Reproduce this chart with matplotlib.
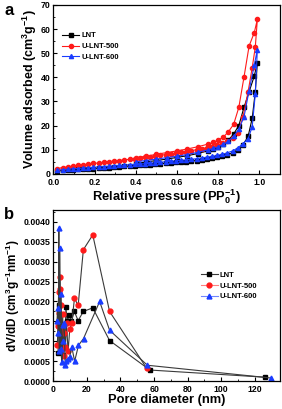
import matplotlib
matplotlib.use("Agg")
import matplotlib.pyplot as plt
from matplotlib.ticker import MultipleLocator, FormatStrFormatter
from matplotlib.lines import Line2D

plt.rcParams["font.family"] = ["Liberation Sans", "DejaVu Sans"]
plt.rcParams["font.weight"] = "bold"
plt.rcParams["mathtext.fontset"] = "custom"
plt.rcParams["mathtext.rm"] = "Liberation Sans:bold"
plt.rcParams["mathtext.bf"] = "Liberation Sans:bold"
plt.rcParams["mathtext.default"] = "bf"

labels = ["LNT", "U-LNT-500", "U-LNT-600"]
colors = ["#000000", "#ff1a1a", "#1a3cff"]
markers = ["s", "o", "^"]

# (a) N2 isotherms: adsorption branch then desorption branch
p_ads = [0.02, 0.045, 0.07, 0.095, 0.12, 0.145, 0.17, 0.195, 0.22, 0.245,
         0.27, 0.295, 0.32, 0.345, 0.37, 0.395, 0.42, 0.445, 0.47, 0.495,
         0.52, 0.545, 0.57, 0.595, 0.62, 0.645, 0.67, 0.695, 0.72, 0.745,
         0.77, 0.795, 0.82, 0.845, 0.87, 0.895, 0.92, 0.945, 0.965, 0.98, 0.99]
p_des = [0.975, 0.95, 0.925, 0.9, 0.875, 0.85, 0.825, 0.8, 0.775, 0.75,
         0.7, 0.65, 0.6, 0.55, 0.5, 0.45, 0.4]

lnt_ads = [1.2, 1.4, 1.5, 1.7, 1.8, 1.9, 2.1, 2.2, 2.4, 2.5,
           2.6, 2.8, 2.9, 3.1, 3.2, 3.4, 3.5, 3.7, 3.8, 4.0,
           4.2, 4.4, 4.5, 4.7, 4.9, 5.1, 5.3, 5.5, 5.8, 6.1,
           6.4, 6.8, 7.3, 7.9, 8.7, 10.0, 12.0, 15.5, 23.0, 34.0, 46.0]
lnt_des = [40.5, 34.0, 27.5, 20.0, 16.5, 14.0, 12.5, 11.0, 10.2, 9.5,
           8.4, 7.5, 6.8, 6.1, 5.5, 4.9, 4.3]

u500_ads = [2.2, 2.6, 2.9, 3.2, 3.5, 3.8, 4.0, 4.3, 4.5, 4.8,
            5.0, 5.3, 5.5, 5.8, 6.0, 6.3, 6.6, 6.8, 7.1, 7.4,
            7.7, 8.0, 8.3, 8.6, 8.9, 9.2, 9.6, 10.0, 10.4, 10.8,
            11.3, 11.9, 12.6, 13.5, 14.8, 17.0, 23.5, 34.0, 44.0, 52.5, 64.0]
u500_des = [58.5, 53.0, 40.0, 27.5, 20.5, 17.5, 15.2, 14.0, 13.0, 12.3,
            11.2, 10.3, 9.5, 8.8, 8.1, 7.3, 6.7]

u600_ads = [1.5, 1.7, 1.9, 2.1, 2.2, 2.4, 2.6, 2.7, 2.9, 3.0,
            3.2, 3.3, 3.5, 3.6, 3.8, 3.9, 4.1, 4.2, 4.4, 4.6,
            4.8, 5.0, 5.2, 5.4, 5.6, 5.8, 6.0, 6.3, 6.6, 6.9,
            7.2, 7.6, 8.1, 8.7, 9.5, 10.7, 12.5, 14.5, 19.5, 33.0, 51.5]
u600_des = [45.0, 34.5, 23.5, 18.5, 15.5, 13.5, 12.2, 11.2, 10.5, 9.9,
            8.9, 8.0, 7.3, 6.7, 6.1, 5.5, 5.0]

# (b) pore size distributions
lnt_d = [2.8, 3.2, 3.6, 4.0, 4.4, 4.8, 5.3, 5.8, 6.3, 6.9, 7.5, 8.3, 9.4,
         10.8, 12.5, 14.8, 17.9, 23.5, 33.5, 57.5, 126.0]
lnt_v = [0.0007, 0.0015, 0.0019, 0.0012, 0.0014, 0.0009, 0.0011, 0.00065,
         0.0012, 0.00085, 0.00187, 0.0015, 0.00165, 0.0015, 0.00175, 0.00152,
         0.00175, 0.00184, 0.00102, 0.00028, 0.0001]

u500_d = [2.4, 2.8, 3.2, 3.5, 3.8, 4.1, 4.4, 4.8, 5.2, 5.6, 6.1, 6.6, 7.2,
          7.9, 8.8, 9.8, 11.0, 12.6, 14.8, 17.9, 23.5, 33.5, 55.5]
u500_v = [0.0009, 0.00138, 0.00225, 0.0017, 0.00262, 0.00232, 0.0019, 0.0013,
          0.0008, 0.00168, 0.00062, 0.0012, 0.00085, 0.00145, 0.00075, 0.0013,
          0.00145, 0.00208, 0.0019, 0.0033, 0.00367, 0.00175, 0.00033]

u600_d = [2.2, 2.6, 3.0, 3.3, 3.6, 3.9, 4.3, 4.7, 5.1, 5.5, 6.0, 6.5, 7.1,
          7.8, 8.7, 9.7, 11.0, 12.7, 15.0, 18.0, 27.6, 33.5, 56.0, 129.5]
u600_v = [0.0015, 0.00183, 0.0012, 0.00385, 0.00075, 0.00334, 0.0008, 0.0022,
          0.00048, 0.001, 0.0014, 0.00145, 0.0004, 0.0005, 0.00055, 0.0006,
          0.00086, 0.0005, 0.0009, 0.00107, 0.002, 0.00128, 0.0004, 0.00008]

fig = plt.figure(figsize=(2.82, 4.09), dpi=100)
ax1 = fig.add_axes([0.189, 0.575, 0.804, 0.413])
ax2 = fig.add_axes([0.189, 0.068, 0.804, 0.419])

iso = [(lnt_ads, lnt_des), (u500_ads, u500_des), (u600_ads, u600_des)]
for (ads, des), lab, c, m in zip(iso, labels, colors, markers):
    ax1.plot(p_ads + p_des, ads + des, color=c, marker=m, markersize=3,
             linewidth=0.8, label=lab)

psd = [(lnt_d, lnt_v), (u500_d, u500_v), (u600_d, u600_v)]
for (d, v), c, m in zip(psd, colors, markers):
    ax2.plot(d, v, color="#3a3a3a", linewidth=0.8, marker=m, markersize=3.5,
             markerfacecolor=c, markeredgecolor=c)

for ax in (ax1, ax2):
    ax.tick_params(direction="in", labelsize=6.3, length=3, width=0.8, pad=2)
    ax.tick_params(axis="x", pad=3)
    ax.tick_params(which="minor", direction="in", length=1.5, width=0.6)
    for s in ax.spines.values():
        s.set_linewidth(0.9)
    for t in ax.get_xticklabels() + ax.get_yticklabels():
        t.set_fontweight("bold")

ax1.set_xlim(0, 1.1)
ax1.set_ylim(0, 70)
ax1.xaxis.set_major_locator(MultipleLocator(0.2))
ax1.xaxis.set_minor_locator(MultipleLocator(0.1))
ax1.xaxis.set_major_formatter(FormatStrFormatter("%.1f"))
ax1.yaxis.set_major_locator(MultipleLocator(10))
ax1.yaxis.set_minor_locator(MultipleLocator(5))
ax1.set_xlabel("Relative pressure (PP$_0^{-1}$)", fontsize=9.3, fontweight="bold", labelpad=0)
ax1.set_ylabel("Volume adsorbed (cm$^3$g$^{-1}$)", fontsize=9, fontweight="bold", labelpad=1)
ax1.legend(loc="upper left", bbox_to_anchor=(0.01, 0.88), frameon=False,
           handlelength=2.2, handletextpad=0.3, labelspacing=0.45,
           prop={"weight": "bold", "size": 5.5})

ax2.set_xlim(0, 135)
ax2.set_ylim(0, 0.0043)
ax2.xaxis.set_major_locator(MultipleLocator(20))
ax2.xaxis.set_minor_locator(MultipleLocator(10))
ax2.yaxis.set_major_locator(MultipleLocator(0.0005))
ax2.yaxis.set_minor_locator(MultipleLocator(0.00025))
ax2.yaxis.set_major_formatter(FormatStrFormatter("%.4f"))
ax2.set_xlabel("Pore diameter (nm)", fontsize=9.3, fontweight="bold", labelpad=0)
ax2.set_ylabel("dV/dD (cm$^3$g$^{-1}$nm$^{-1}$)", fontsize=8.5, fontweight="bold", labelpad=1)
handles = [Line2D([], [], color=lc, marker=m, markersize=3.5, linewidth=0.8,
                  markerfacecolor=c, markeredgecolor=c)
           for lc, c, m in zip(["#3a3a3a", "#ff8080", "#6f86ff"], colors, markers)]
ax2.legend(handles, labels, loc="upper left", bbox_to_anchor=(0.62, 0.68),
           frameon=False, handlelength=2.2, handletextpad=0.3, labelspacing=0.45,
           prop={"weight": "bold", "size": 5.5})

fig.text(0.015, 0.975, "a", fontsize=12, fontweight="bold", va="center")
fig.text(0.015, 0.475, "b", fontsize=12, fontweight="bold", va="center")

fig.savefig("out.png", dpi=100)
